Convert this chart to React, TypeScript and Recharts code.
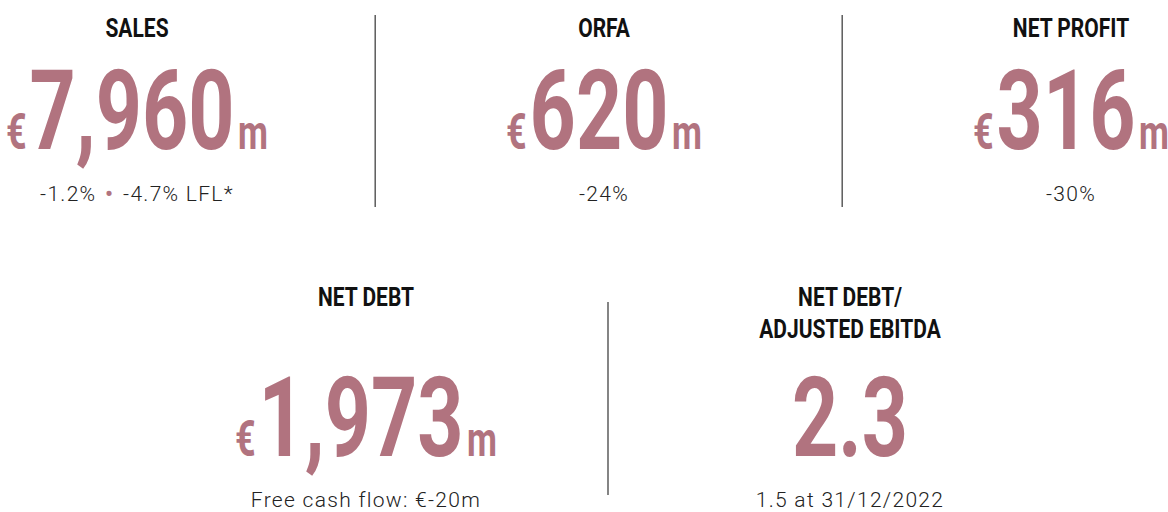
import { ScatterChart, Scatter, XAxis, YAxis } from "recharts";

// top row kpis
const topTitles = ["SALES", "ORFA", "NET PROFIT"];
const topValues = ["7,960", "620", "316"];
const topNotes = [["-1.2%", "-4.7% LFL*"], ["-24%"], ["-30%"]];

// bottom row kpis
const bottomTitles = [["NET DEBT"], ["NET DEBT/", "ADJUSTED EBITDA"]];
const bottomValues = ["1,973", "2.3"];
const bottomPrefixes = ["€", ""];
const bottomUnits = ["m", ""];
const bottomNotes = [["Free cash flow: €-20m"], ["1.5 at 31/12/2022"]];

const W = 1168;
const H = 512;
const PINK = "#b1737f";
const FONT = "Roboto, 'Noto Sans', sans-serif";

// layout: column centres and row baselines in pixels -> axis domains
const colDomain = (first: number, step: number) => [-first / step, (W - first) / step];
const TOP_COLS = colDomain(137, 467);
const BOTTOM_COLS = colDomain(366, 484);
const ROW_DOMAIN = [-149 / 307, (H - 149) / 307];

const ROWS = [
  { titleDy: -112, noteDy: 52, lineTop: -134, lineBottom: 58 },
  { titleDy: -150, noteDy: 51, lineTop: -154, lineBottom: 39 },
];

const topData = topTitles.map((t, i) => ({
  slot: i,
  row: 0,
  title: [t],
  value: topValues[i],
  prefix: "€",
  unit: "m",
  note: topNotes[i],
}));

const bottomData = bottomTitles.map((t, i) => ({
  slot: i,
  row: 1,
  title: t,
  value: bottomValues[i],
  prefix: bottomPrefixes[i],
  unit: bottomUnits[i],
  note: bottomNotes[i],
}));

const topDividers = [
  { slot: 0.51, row: 0 },
  { slot: 1.51, row: 0 },
];
const bottomDividers = [{ slot: 0.5, row: 1 }];

function KpiShape(props: any) {
  const { cx, cy, payload } = props;
  const r = ROWS[payload.row];
  return (
    <g>
      {payload.title.map((line: string, k: number) => (
        <text
          key={k}
          transform={`translate(${cx},${cy + r.titleDy + k * 32}) scale(0.84,1)`}
          textAnchor="middle"
          fontFamily={FONT}
          fontWeight={700}
          fontSize={25}
          fill="#111"
        >
          {line}
        </text>
      ))}
      <text
        transform={`translate(${cx},${cy}) scale(0.72,1)`}
        textAnchor="middle"
        fontFamily={FONT}
        fontWeight={700}
        fill={PINK}
      >
        {payload.prefix && <tspan fontSize={50}>{payload.prefix}</tspan>}
        <tspan fontSize={112} dx={payload.prefix ? 4 : 0}>
          {payload.value}
        </tspan>
        {payload.unit && (
          <tspan fontSize={48} dx={5}>
            {payload.unit}
          </tspan>
        )}
      </text>
      <text
        x={cx}
        y={cy + r.noteDy}
        textAnchor="middle"
        fontFamily={FONT}
        fontWeight={300}
        fontSize={21}
        letterSpacing={1.3}
        fill="#222"
      >
        {payload.note.map((seg: string, k: number) => (
          <tspan key={k}>
            {k > 0 && (
              <tspan fill={PINK} fontSize={28} dy={2}>
                {" • "}
              </tspan>
            )}
            {k > 0 ? <tspan dy={-2}>{seg}</tspan> : seg}
          </tspan>
        ))}
      </text>
    </g>
  );
}

function DividerShape(props: any) {
  const { cx, cy, payload } = props;
  const r = ROWS[payload.row];
  return <line x1={cx} x2={cx} y1={cy + r.lineTop} y2={cy + r.lineBottom} stroke="#333" strokeWidth={1.2} />;
}

export default function App() {
  return (
    <div style={{ position: "absolute", left: 0, top: 0, width: W, height: H, background: "#fff" }}>
      <ScatterChart width={W} height={H} margin={{ top: 0, right: 0, bottom: 0, left: 0 }}>
        <XAxis xAxisId="top" dataKey="slot" type="number" domain={TOP_COLS} hide allowDataOverflow />
        <XAxis xAxisId="bottom" dataKey="slot" type="number" domain={BOTTOM_COLS} hide allowDataOverflow />
        <YAxis dataKey="row" type="number" domain={ROW_DOMAIN} reversed hide allowDataOverflow />
        <Scatter xAxisId="top" data={topDividers} shape={DividerShape} isAnimationActive={false} />
        <Scatter xAxisId="bottom" data={bottomDividers} shape={DividerShape} isAnimationActive={false} />
        <Scatter xAxisId="top" data={topData} shape={KpiShape} isAnimationActive={false} />
        <Scatter xAxisId="bottom" data={bottomData} shape={KpiShape} isAnimationActive={false} />
      </ScatterChart>
    </div>
  );
}
